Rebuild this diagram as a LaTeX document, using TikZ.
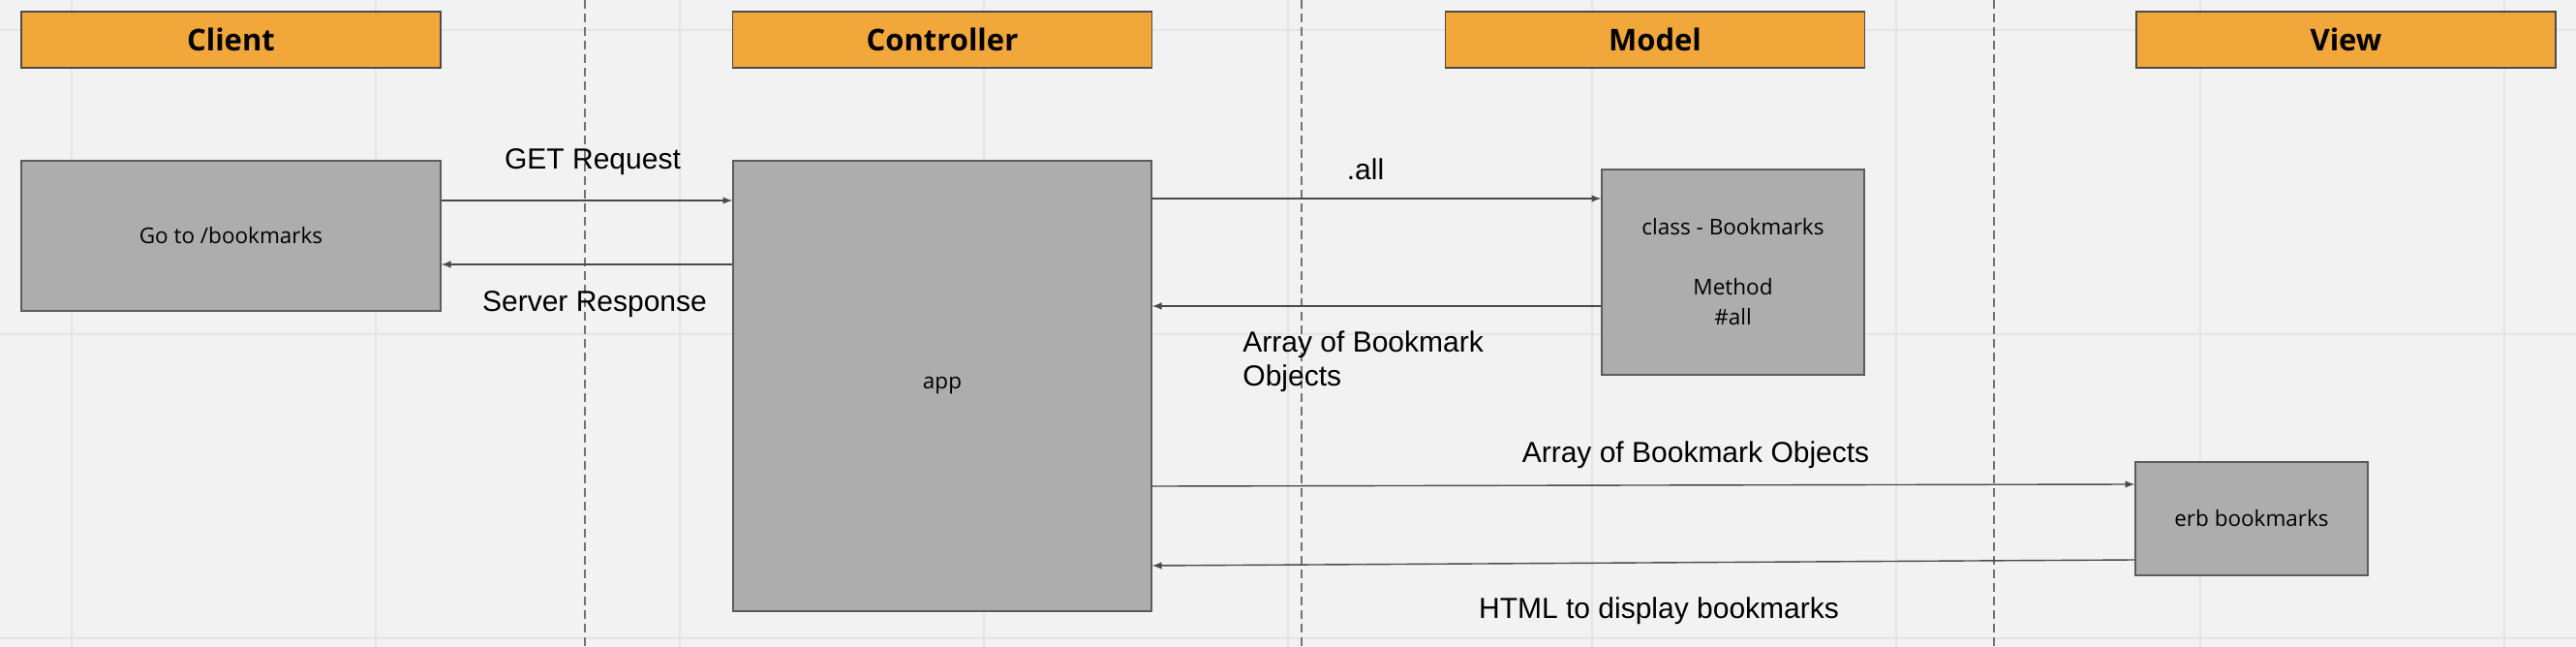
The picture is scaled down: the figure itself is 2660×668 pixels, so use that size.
\documentclass[tikz,border=0pt]{standalone}
\usepackage{fontspec}
\usepackage{tikz}
\usetikzlibrary{calc,positioning}
\newfontfamily\labelfont{Liberation Sans}
\newfontfamily\boxfont{Open Sans}
\definecolor{canvas}{HTML}{F2F2F2}
\definecolor{gridline}{HTML}{E4E4E4}
\definecolor{headerfill}{HTML}{F2A73B}
\definecolor{boxfill}{HTML}{ADADAD}
\definecolor{boxline}{HTML}{5C5C5C}
\definecolor{arrowline}{HTML}{4A4A4A}
\tikzset{
	message/.style={
		->,
		draw=arrowline,
		line width=0.7pt
	},
	lifeline/.style={
		draw=black!55,
		dash pattern=on 4.5pt off 2.5pt,
		line width=0.7pt
	},
	gridrule/.style={
		draw=gridline,
		line width=1pt
	}
}
\begin{document}
\begin{tikzpicture}[
					x=0.5pt,y=-0.5pt,
					header/.style={
						rectangle,
						draw=black!70, fill=headerfill, line width=0.7pt,
						minimum width=216.5pt,
						minimum height=29pt,
						font=\boxfont\bfseries\fontsize{15.5}{18}\selectfont
					},
					component/.style={
						rectangle,
						draw=boxline, fill=boxfill, line width=0.7pt,
						align=center,
						font=\boxfont\fontsize{11.25}{15.5}\selectfont
					},
					caption/.style={
						inner sep=0pt,
						font=\labelfont\fontsize{15}{17.5}\selectfont
					},
					>=latex]

					%%% Canvas
					\fill[canvas] (0,0) rectangle (2660,668);
					\useasboundingbox (0,0) rectangle (2660,668);
					\draw[gridrule] (74,0) -- (74,668) (388,0) -- (388,668) (702,0) -- (702,668)
						(1016,0) -- (1016,668) (1330,0) -- (1330,668) (1644,0) -- (1644,668)
						(1958,0) -- (1958,668) (2272,0) -- (2272,668) (2586,0) -- (2586,668);
					\draw[gridrule] (0,31) -- (2660,31) (0,345) -- (2660,345) (0,659) -- (2660,659);

					%% Lane separators
					\draw[lifeline] (604,0) -- (604,668);
					\draw[lifeline] (1344,0) -- (1344,668);
					\draw[lifeline] (2059,0) -- (2059,668);

					%%% Nodes
					%% Headers
					\node at (238.5,41) [header] (clienthead) {Client};
					\node at (973,41) [header] (controllerhead) {Controller};
					\node at (1709,41) [header] (modelhead) {Model};
					\node at (2422.5,41) [header] (viewhead) {View};

					%% Components
					\node at (238.5,243.5) [component,minimum width=216.5pt,minimum height=77.5pt] (client) {Go to /bookmarks};
					\node at (973,398.5) [component,minimum width=216pt,minimum height=232.5pt] (app) {app};
					\node at (1789.5,281) [component,minimum width=135.5pt,minimum height=106pt] (model) {class - Bookmarks\\[15.5pt]Method\\\#all};
					\node at (2325,535.5) [component,minimum width=120pt,minimum height=58.5pt] (view) {erb bookmarks};

					%%% Connections
					%% Client and controller
					\draw[message] (client.east |- 0,207) -- (app.west |- 0,207);
					\draw[message] (app.west |- 0,273) -- (client.east |- 0,273);

					%% Controller and model
					\draw[message] (app.east |- 0,205) -- (model.west |- 0,205);
					\draw[message] (model.west |- 0,316) -- (app.east |- 0,316);

					%% Controller and view
					\draw[message] (app.east |- 0,502) -- (view.west |- 0,500);
					\draw[message] (view.west |- 0,578) -- (app.east |- 0,584);

					%%% Labels
					\node at (612,167) [caption] (getlabel) {GET Request};
					\node at (614,314) [caption] (responselabel) {Server Response};
					\node at (1410,175) [caption] (alllabel) {.all};
					\node at (1283,373) [caption,anchor=west,align=left] (arraylabel) {Array of Bookmark\\Objects};
					\node at (1751,470) [caption] (objectslabel) {Array of Bookmark Objects};
					\node at (1713,631) [caption] (htmllabel) {HTML to display bookmarks};
				\end{tikzpicture}
\end{document}
